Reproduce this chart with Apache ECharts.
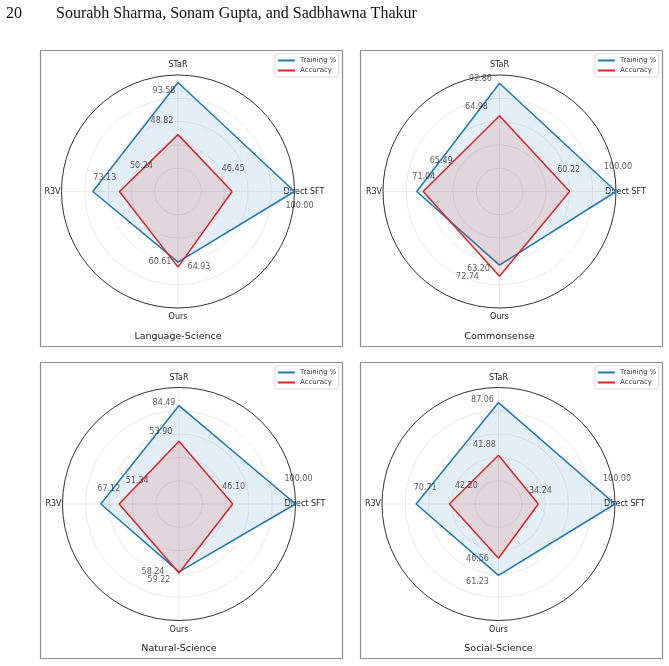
<!DOCTYPE html>
<html>
<head>
<meta charset="utf-8">
<script src="https://cdn.jsdelivr.net/npm/echarts@6/dist/echarts.min.js"></script>
<style>
html, body { margin: 0; padding: 0; background: #fff; }
#main { width: 669px; height: 666px; }
</style>
</head>
<body>
<div id="main"></div>
<script>
// axes of every radar, counter-clockwise from the right
var axisNames = ['Direct SFT', 'STaR', 'R3V', 'Ours'];
var axisAngles = [0, 90, 180, 270];
var seriesNames = ['Training %', 'Accuracy'];

var languageTraining = [100.00, 93.58, 73.13, 60.61];
var languageAccuracy = [46.45, 48.82, 50.24, 64.93];
var commonTraining = [100.00, 92.86, 71.04, 63.20];
var commonAccuracy = [60.22, 64.98, 65.49, 72.74];
var naturalTraining = [100.00, 84.49, 67.12, 58.24];
var naturalAccuracy = [46.10, 53.90, 51.34, 59.22];
var socialTraining = [100.00, 87.06, 70.71, 61.23];
var socialAccuracy = [34.24, 41.88, 42.20, 46.56];

// panel layout; label offsets are pixels from the point
var panels = [
    {title: 'Language-Science', training: languageTraining, accuracy: languageAccuracy,
     box: [40, 50], center: [178, 191.5],
     trainOff: [[5, 14], [-14, 8], [12, -14], [-18, 0]],
     accOff: [[1, -23], [-16, -14], [22, -26], [21, 0]]},
    {title: 'Commonsense', training: commonTraining, accuracy: commonAccuracy,
     box: [360, 50], center: [499.5, 191.5],
     trainOff: [[2, -25], [-19, -4], [7, -15], [-21, 4]],
     accOff: [[-1, -22], [-23, -9], [18, -31], [-32, 1]]},
    {title: 'Natural-Science', training: naturalTraining, accuracy: naturalAccuracy,
     box: [40, 362], center: [179, 504],
     trainOff: [[3, -25], [-15, -3], [8, -15], [-26, 0]],
     accOff: [[1, -17], [-18, -9], [18, -23], [-20, 7]]},
    {title: 'Social-Science', training: socialTraining, accuracy: socialAccuracy,
     box: [360, 362], center: [498.5, 504],
     trainOff: [[2, -25], [-16, -3], [9, -16], [-21, 7]],
     accOff: [[2, -13], [-14, -10], [17, -18], [-21, 1]]}
];

var colors = ['#1f77b4', '#d62728'];
var font = 'DejaVu Sans';

// angle labels sit centred just outside the circle, as matplotlib does
var nameRich = {
    d: {fontSize: 8, color: '#222', fontFamily: font},
    s: {fontSize: 8, color: '#222', fontFamily: font, padding: [0, 0, 17, 0]},
    r: {fontSize: 8, color: '#222', fontFamily: font, padding: [0, 12, 0, 0]},
    o: {fontSize: 8, color: '#222', fontFamily: font, padding: [16, 0, 0, 0]}
};
var nameKeys = ['d', 's', 'r', 'o'];

function loop(values) {
    var pts = values.map(function (v, k) { return [v, axisAngles[k]]; });
    pts.push([values[0], 360]);
    return pts;
}

var polar = [], angleAxis = [], radiusAxis = [], series = [], legend = [], graphic = [];

panels.forEach(function (p, i) {
    polar.push({center: p.center, radius: 116.5});
    angleAxis.push({
        polarIndex: i, type: 'value', min: 0, max: 360, interval: 90,
        startAngle: 0, clockwise: false,
        axisLine: {lineStyle: {color: '#222', width: 0.9}},
        axisTick: {show: false},
        axisLabel: {
            margin: -11, rich: nameRich,
            formatter: function (v) {
                var k = axisAngles.indexOf(v);
                return k < 0 ? '' : '{' + nameKeys[k] + '|' + axisNames[k] + '}';
            }
        },
        splitLine: {lineStyle: {color: '#e6e6e6', width: 0.8}}
    });
    radiusAxis.push({
        polarIndex: i, type: 'value', min: 0, max: 100, interval: 20,
        axisLine: {show: false}, axisTick: {show: false}, axisLabel: {show: false},
        splitLine: {lineStyle: {color: '#e6e6e6', width: 0.8}}
    });

    [p.training, p.accuracy].forEach(function (vals, s) {
        series.push({
            name: seriesNames[s], type: 'line', coordinateSystem: 'polar', polarIndex: i,
            data: loop(vals), symbol: 'none', color: colors[s],
            lineStyle: {width: 1.5}, areaStyle: {opacity: 0.12}, z: 2 + s
        });
    });
    [p.training, p.accuracy].forEach(function (vals, s) {
        var offs = s === 0 ? p.trainOff : p.accOff;
        series.push({
            name: seriesNames[s] + ' values', type: 'scatter', coordinateSystem: 'polar', polarIndex: i,
            symbolSize: 1, itemStyle: {color: 'rgba(0,0,0,0)'}, silent: true, z: 6,
            label: {
                show: true, position: 'inside', fontSize: 8, color: '#333', fontFamily: font,
                formatter: function (d) { return d.value[0].toFixed(2); }
            },
            data: vals.map(function (v, k) {
                return {value: [v, axisAngles[k]], label: {offset: offs[k]}};
            })
        });
    });

    legend.push({
        data: seriesNames, orient: 'vertical',
        left: p.box[0] + 235, top: p.box[1] + 4,
        padding: [3, 2, 3, 3], itemGap: 3, itemWidth: 17, itemHeight: 2, icon: 'rect',
        backgroundColor: 'rgba(255,255,255,0.8)', borderColor: '#d4d4d4', borderWidth: 0.8, borderRadius: 2,
        textStyle: {fontSize: 7, color: '#333', fontFamily: font}, selectedMode: false
    });

    graphic.push({
        type: 'rect', shape: {x: p.box[0] + 0.5, y: p.box[1] + 0.5, width: 302, height: 296},
        style: {fill: 'none', stroke: '#8c8c8c', lineWidth: 1.2}
    });
    graphic.push({
        type: 'text', x: p.center[0], y: p.box[1] + 287,
        style: {text: p.title, font: '9.5px "DejaVu Sans"', fill: '#222', align: 'center', verticalAlign: 'middle'}
    });
});

graphic.push({
    type: 'text', x: 6, y: 14,
    style: {text: '20', font: '16px "Liberation Serif"', fill: '#111', align: 'left', verticalAlign: 'middle'}
});
graphic.push({
    type: 'text', x: 56, y: 14,
    style: {text: 'Sourabh Sharma, Sonam Gupta, and Sadbhawna Thakur', font: '16px "Liberation Serif"', fill: '#111', align: 'left', verticalAlign: 'middle'}
});

var myChart = echarts.init(document.getElementById('main'));
myChart.setOption({
    animation: false,
    polar: polar,
    angleAxis: angleAxis,
    radiusAxis: radiusAxis,
    legend: legend,
    graphic: graphic,
    series: series
});
</script>
</body>
</html>
